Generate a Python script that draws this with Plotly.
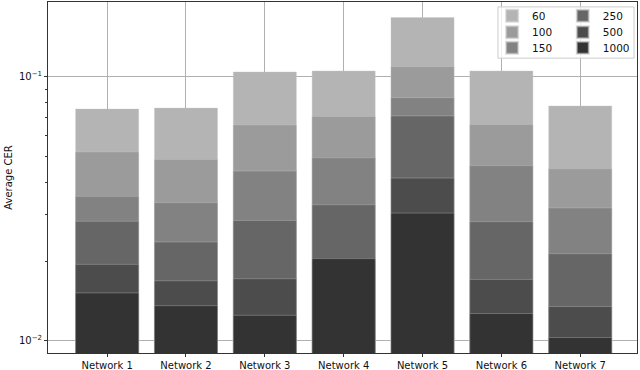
import plotly.graph_objects as go

networks = ["Network 1", "Network 2", "Network 3", "Network 4", "Network 5", "Network 6", "Network 7"]
series_names = ["60", "100", "150", "250", "500", "1000"]
cer_60 = [0.0756, 0.0762, 0.1045, 0.1054, 0.168, 0.1054, 0.0776]
cer_100 = [0.0520, 0.0487, 0.0658, 0.0708, 0.1094, 0.0660, 0.0449]
cer_150 = [0.0353, 0.0334, 0.0440, 0.0494, 0.0835, 0.0461, 0.0319]
cer_250 = [0.0284, 0.0237, 0.0286, 0.0328, 0.0712, 0.0283, 0.0214]
cer_500 = [0.0195, 0.0169, 0.0172, 0.0200, 0.0414, 0.0171, 0.0135]
cer_1000 = [0.0152, 0.0136, 0.0125, 0.0205, 0.0305, 0.0127, 0.0103]
series_values = [cer_60, cer_100, cer_150, cer_250, cer_500, cer_1000]
colors = ["#b4b4b4", "#9b9b9b", "#828282", "#666666", "#4c4c4c", "#333333"]
y_tick_vals = [0.01, 0.1]
y_tick_text = ["10<sup>\u22122</sup>", "10<sup>\u22121</sup>"]

# legend layout: 2 columns x 3 rows (column-major order)
legend_ids = ["legend", "legend2", "legend3", "legend4", "legend5", "legend6"]
legend_col_x = [0.754, 0.874]
legend_row_y = [0.961, 0.914, 0.870]

fig = go.Figure()
for i, (name, vals, col) in enumerate(zip(series_names, series_values, colors)):
    fig.add_trace(go.Bar(
        x=list(range(len(networks))), y=vals, name=name,
        marker=dict(color=col, line=dict(width=0.6, color="rgba(200,200,200,0.6)")),
        width=0.8, legend=legend_ids[i],
    ))

legend_layouts = {}
for i, lid in enumerate(legend_ids):
    legend_layouts[lid] = dict(
        orientation="v", yanchor="middle", xanchor="left",
        x=legend_col_x[i // 3], y=legend_row_y[i % 3],
        bgcolor="rgba(0,0,0,0)", borderwidth=0, font=dict(size=10.5, color="#111"),
        itemsizing="constant",
    )

fig.update_layout(
    width=640, height=370,
    barmode="overlay",
    margin=dict(l=48, r=3, t=2, b=17, autoexpand=False),
    paper_bgcolor="white", plot_bgcolor="white",
    font=dict(family="DejaVu Sans", size=10, color="#111"),
    showlegend=True,
    shapes=[dict(
        type="rect", xref="paper", yref="paper",
        x0=0.764, x1=0.995, y0=0.840, y1=0.986,
        line=dict(color="#cccccc", width=1), fillcolor="rgba(255,255,255,0.8)",
        layer="above",
    )],
    **legend_layouts,
)
fig.update_xaxes(
    range=[-0.75, 6.72], tickmode="array",
    tickvals=list(range(len(networks))), ticktext=networks,
    showgrid=True, gridcolor="#b0b0b0", gridwidth=1,
    showline=True, linecolor="#333", linewidth=1, mirror=True,
    ticks="outside", ticklen=3, tickcolor="#333", zeroline=False,
    automargin=False,
)
fig.update_yaxes(
    type="log", range=[-2.0458, -0.716],
    tickmode="array", tickvals=y_tick_vals, ticktext=y_tick_text,
    showgrid=True, gridcolor="#b0b0b0", gridwidth=1,
    showline=True, linecolor="#333", linewidth=1, mirror=True,
    ticks="outside", ticklen=3, tickcolor="#333",
    minor=dict(ticks="outside", ticklen=2, tickcolor="#333", showgrid=False,
               tickvals=[0.02, 0.03, 0.04, 0.05, 0.06, 0.07, 0.08, 0.09]),
    title=dict(text="Average CER", standoff=4, font=dict(size=10)),
    zeroline=False, automargin=False,
)
fig.write_html("out.html", config={"displayModeBar": False},
               post_script="document.body.style.margin='0';")
